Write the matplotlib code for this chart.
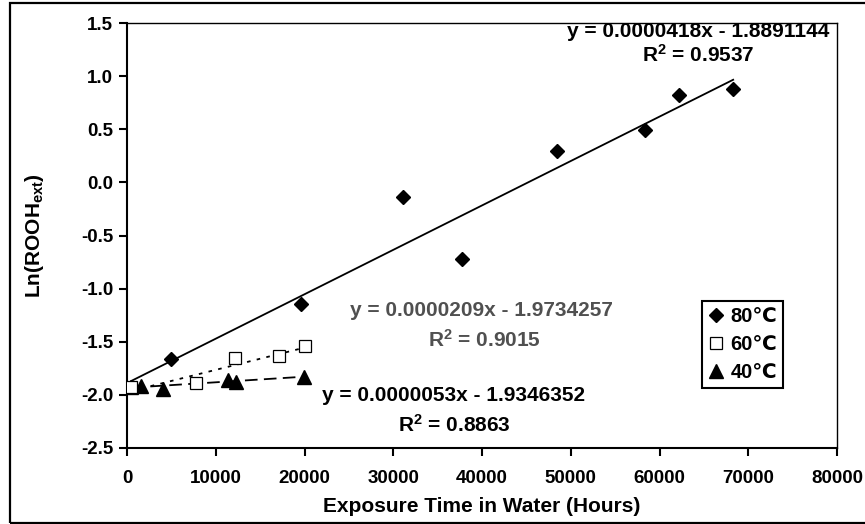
import matplotlib
matplotlib.use('Agg')
import matplotlib.pyplot as plt
from matplotlib.patches import Rectangle
import numpy as np

# Daten
hours_80 = [500, 5000, 19600, 31100, 37800, 48400, 58400, 62200, 68300]
ln_80 = [-1.93, -1.66, -1.14, -0.14, -0.72, 0.30, 0.49, 0.82, 0.88]

hours_60 = [500, 7800, 12200, 17100, 20100]
ln_60 = [-1.93, -1.89, -1.65, -1.63, -1.54]

hours_40 = [500, 1600, 4000, 11400, 12300, 19900]
ln_40 = [-1.93, -1.92, -1.94, -1.86, -1.88, -1.83]

# Trendlinien (Excel)
slopes = [0.0000418, 0.0000209, 0.0000053]
intercepts = [-1.8891144, -1.9734257, -1.9346352]
r2_values = [0.9537, 0.9015, 0.8863]
labels = ['80\u2103', '60\u2103', '40\u2103']

plt.rcParams['font.family'] = ['Liberation Sans', 'DejaVu Sans']
plt.rcParams['font.weight'] = 'bold'
plt.rcParams['mathtext.fontset'] = 'custom'
plt.rcParams['mathtext.rm'] = 'Liberation Sans:bold'
plt.rcParams['mathtext.it'] = 'Liberation Sans:bold'
plt.rcParams['mathtext.bf'] = 'Liberation Sans:bold'

fig = plt.figure(figsize=(8.65, 5.24), dpi=100)
ax = fig.add_axes([127 / 865, 1 - 448 / 524, 710 / 865, 425 / 524])

# Rahmen um die ganze Grafik
fig.patches.append(Rectangle((10 / 865, 1.5 / 524), 1.2, 519.5 / 524,
                             transform=fig.transFigure, fill=False,
                             edgecolor='black', lw=1.6, clip_on=False))

series = [(hours_80, ln_80), (hours_60, ln_60), (hours_40, ln_40)]
line_styles = ['-', (0, (2, 3.5)), (0, (7, 3.5))]
for (hx, ly), m, b, ls in zip(series, slopes, intercepts, line_styles):
    xs = np.array([min(hx), max(hx)])
    ax.plot(xs, m * xs + b, color='black', lw=1.3, linestyle=ls, zorder=2)

ax.plot(hours_80, ln_80, linestyle='none', marker='D', markersize=7.5,
        color='black', label=labels[0], zorder=3)
ax.plot(hours_40, ln_40, linestyle='none', marker='^', markersize=9.5,
        color='black', label=labels[2], zorder=3)
ax.plot(hours_60, ln_60, linestyle='none', marker='s', markersize=8.5,
        markerfacecolor='white', markeredgecolor='black', markeredgewidth=0.9,
        label=labels[1], zorder=4)

ax.set_xlim(0, 80000)
ax.set_ylim(-2.5, 1.5)
ax.set_xticks(np.arange(0, 80001, 10000))
ax.set_yticks(np.arange(-2.5, 1.51, 0.5))
ax.set_yticklabels([f'{v:.1f}' for v in np.arange(-2.5, 1.51, 0.5)])
ax.tick_params(direction='out', length=6, width=1.5, labelsize=13.5, pad=4)
ax.tick_params(axis='x', pad=10)
for sp in ax.spines.values():
    sp.set_linewidth(1.5)
for sp in ['top', 'right']:
    ax.spines[sp].set_linewidth(1.0)

ax.set_xlabel('Exposure Time in Water (Hours)', fontsize=15, fontweight='bold', labelpad=7)
ax.set_ylabel('Ln(ROOH$_{\\rm ext}$)', fontsize=15, fontweight='bold', labelpad=25)

# Gleichungen
def eq_text(m, b):
    return f'y = {m:.7f}x - {abs(b):.7f}'

eq_pos = [(0.804, 0.9795, 0.804, 0.925), (0.4986, 0.3247, 0.503, 0.254),
          (0.4606, 0.1247, 0.4606, 0.054)]
eq_colors = ['black', '#505050', 'black']
for m, b, r2, (x1, y1, x2, y2), c in zip(slopes, intercepts, r2_values, eq_pos, eq_colors):
    ax.text(x1, y1, eq_text(m, b), transform=ax.transAxes, ha='center', va='center',
            fontsize=15, fontweight='bold', color=c)
    ax.text(x2, y2, 'R$^{2}$ = ' + f'{r2:.4f}', transform=ax.transAxes, ha='center',
            va='center', fontsize=15, fontweight='bold', color=c)

handles, labs = ax.get_legend_handles_labels()
order = [labs.index(l) for l in labels]
leg = ax.legend([handles[i] for i in order], [labs[i] for i in order],
                loc='upper left', bbox_to_anchor=(0.81, 0.346), borderaxespad=0,
                fontsize=14.5, handlelength=0.8, handletextpad=0.3, borderpad=0.3,
                labelspacing=0.45, fancybox=False, framealpha=1, edgecolor='black')
leg.get_frame().set_linewidth(1.5)

plt.savefig('out.png', dpi=100)
plt.close()
